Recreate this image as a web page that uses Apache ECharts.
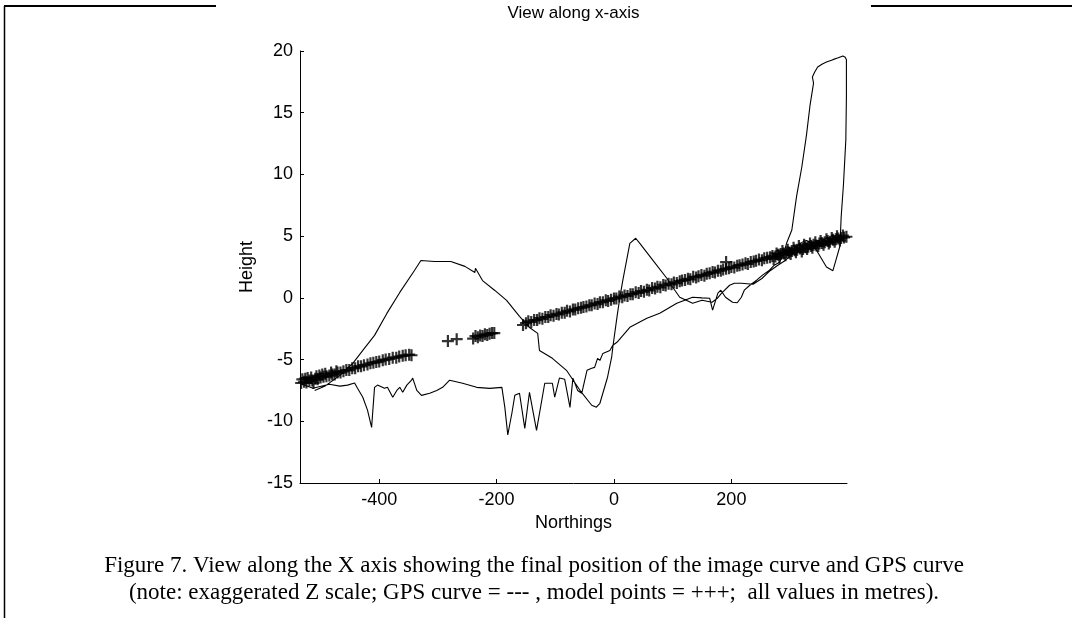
<!DOCTYPE html>
<html><head><meta charset="utf-8">
<script src="https://cdn.jsdelivr.net/npm/echarts@6/dist/echarts.min.js"></script>
<style>html,body{margin:0;padding:0;background:#fff}#c{width:1072px;height:618px}</style>
</head><body><div id="c"></div>
<script>
// ---- text ----
const titleText = 'View along x-axis';
const xAxisName = 'Northings';
const yAxisName = 'Height';
const captionLines = [
  'Figure 7. View along the X axis showing the final position of the image curve and GPS curve',
  '(note: exaggerated Z scale; GPS curve = --- , model points = +++;  all values in metres).'
];
// ---- axes ----
const xRange = [-535, 397];
const yRange = [-15, 20];
const yStep = 5;
const xTickValues = [-400, -200, 0, 200];

// ---- GPS curve (Northings, Height), in travel order ----
const gpsCurve = [
  [-535,-6.92],[-513,-7.33],[-485,-7.0],[-467,-7.15],[-454,-7.07],[-442,-6.9],[-437,-7.33],[-428,-8.05],
  [-420,-9.1],[-413,-10.5],[-408,-7.25],[-403,-7.07],[-391,-7.33],[-386,-7.25],[-377,-8.05],[-370,-7.5],
  [-365,-7.25],[-360,-7.65],[-353,-7.07],[-345,-6.67],[-343,-6.5],[-336,-7.5],[-328,-7.9],[-314,-7.73],
  [-302,-7.5],[-292,-7.25],[-280,-6.67],[-258,-6.92],[-234,-7.25],[-212,-7.33],[-191,-7.25],[-186,-8.87],
  [-181,-11.1],[-174,-9.35],[-169,-7.9],[-161,-7.73],[-152,-10.57],[-144,-7.65],[-132,-10.73],[-118,-6.92],
  [-105,-6.92],[-101,-8.05],[-93,-6.5],[-84,-6.6],[-75,-8.87],[-70,-6.5],[-67,-6.42],[-62,-7.5],[-55,-7.73],
  [-46,-5.87],[-38,-5.7],[-33,-5.63],[-28,-4.9],[-24,-5.07],[-19,-4.5],[-7,-4.26],[-2,-3.84],[5,-3.6],
  [27,-2.39],[56,-1.66],[78,-1.25],[107,-0.44],[134,0.05],[150,0.0],[163,-0.03],[168,-1.0],[177,0.38],
  [182,0.62],[190,0.05],[202,-0.36],[210,-0.4],[217,0.05],[222,0.62],[231,1.0],[243,1.43],[253,1.84],
  [265,2.24],[273,2.65],[282,2.89],[290,3.7],[294,4.42],
  [303,5.5],[311,8.2],[320,10.6],[328,13.2],[334,15.6],[340,17.4],[338,17.9],[342,18.3],[347,18.7],
  [355,18.95],[362,19.1],[373,19.3],[382,19.45],[390,19.6],[394,19.5],[396,19.3],[396,16.3],[395,12.8],
  [391,9.2],[387,6.5],[385,4.2],[379,3.2],[373,2.2],[362,2.5],[345,3.85],[334,4.5],[328,4.65],[323,4.58],
  [311,4.17],[305,3.6],[291,3.0],[278,2.6],[266,2.2],[252,1.57],[237,1.1],[217,1.18],[205,1.18],[197,1.02],
  [183,0.37],[176,-0.04],[167,-0.36],[150,-0.2],[134,-0.44],[112,0.05],[100,0.86],[90,1.59],[69,2.88],
  [44,4.42],[37,4.83],[27,4.42],[15,1.42],[10,0.04],[5,-1.58],[-2,-4.0],[-4,-4.81],[-11,-6.43],[-24,-8.54],
  [-30,-8.86],[-38,-8.7],[-58,-7.49],[-81,-5.87],[-105,-4.9],[-127,-4.26],[-130,-2.88],[-144,-2.4],
  [-161,-1.5],[-183,-0.21],[-203,0.6],[-224,1.4],[-236,2.4],[-237,2.06],[-254,2.55],[-278,2.95],
  [-306,2.95],[-329,3.03],[-340,2.22],[-365,0.44],[-387,-1.26],[-408,-3.04],[-428,-4.26],[-445,-5.31],
  [-467,-6.28],[-493,-7.17],[-510,-7.5]
];

// ---- model points (Northings, Height) ----
const modelPoints = [
  [-533,-6.9],[-531,-6.6],[-528,-6.8],[-526,-6.55],[-524,-6.85],[-522,-6.5],[-519,-6.7],[-516,-6.45],
  [-514,-6.7],[-512,-6.9],[-509,-6.55],[-507,-6.35],[-505,-6.6],[-502,-6.3],[-500,-6.45],[-497,-6.2],
  [-495,-6.4],[-492,-6.15],[-490,-6.35],[-485,-6.3],[-482,-6.05],[-480,-6.2],[-476,-6.2],[-473,-5.95],
  [-471,-6.05],[-466,-6.05],[-461,-5.95],[-456,-5.85],[-451,-5.85],[-446,-5.7],[-441,-5.7],[-436,-5.55],
  [-431,-5.55],[-426,-5.45],[-420,-5.4],[-415,-5.3],[-410,-5.25],[-405,-5.2],[-400,-5.15],[-394,-5.05],
  [-389,-5.0],[-383,-4.95],[-377,-4.85],[-371,-4.85],[-366,-4.75],[-360,-4.7],[-355,-4.65],[-349,-4.6],
  [-345,-4.65],
  [-283,-3.5],[-268,-3.35],
  [-240,-3.3],[-236,-3.1],[-232,-3.2],[-228,-3.05],[-224,-3.1],[-220,-2.95],[-216,-3.0],[-212,-2.9],
  [-208,-2.85],[-204,-2.85],
  [-155,-2.2],[-150,-2.05],[-146,-1.9],[-141,-1.95],[-136,-1.8],[-131,-1.8],[-127,-1.65],[-122,-1.7],
  [-117,-1.55],[-112,-1.55],[-108,-1.4],[-103,-1.45],[-98,-1.3],[-94,-1.35],[-89,-1.2],[-84,-1.2],
  [-80,-1.05],[-75,-1.1],[-70,-0.95],[-66,-0.95],[-61,-0.85],[-56,-0.8],[-52,-0.75],[-47,-0.7],
  [-42,-0.6],[-38,-0.6],[-33,-0.45],[-28,-0.5],[-24,-0.35],[-19,-0.35],[-14,-0.2],[-10,-0.25],
  [-5,-0.15],[0,-0.05],[4,-0.05],[9,0.1],[14,0.05],[18,0.2],[23,0.15],[28,0.3],[32,0.3],[37,0.45],
  [42,0.4],[46,0.55],[51,0.5],[56,0.65],[60,0.6],[65,0.8],[70,0.75],[74,0.9],[79,0.85],[84,1.05],
  [88,1.0],[93,1.15],[98,1.1],[102,1.25],[107,1.2],[112,1.35],[116,1.4],[121,1.45],[126,1.55],
  [130,1.5],[135,1.7],[140,1.65],[144,1.75],[149,1.85],[154,1.8],[158,1.95],[163,2.0],[168,2.1],
  [172,2.05],[177,2.2],[182,2.2],[186,2.3],[191,2.35],[191,2.9],[196,2.4],[200,2.5],[205,2.45],
  [210,2.6],[214,2.65],[219,2.7],[224,2.8],[228,2.75],[233,2.9],[238,2.95],[242,3.0],[247,3.1],
  [252,3.05],[256,3.2],[261,3.25],[266,3.3],[270,3.4],[275,3.35],[280,3.5],[284,3.55],[289,3.6],
  [294,3.7],[298,3.65],[303,3.8],[308,3.85],[312,3.9],[317,4.0],[322,3.95],[326,4.1],[331,4.15],
  [336,4.2],[340,4.3],[345,4.25],[350,4.4],[354,4.45],[359,4.5],[364,4.6],[368,4.55],[373,4.7],
  [378,4.75],[382,4.8],[387,4.85],[392,4.9],[396,4.95],
  [272,3.15],[277,3.6],[282,3.25],[287,3.8],[292,3.45],[296,3.9],[301,3.55],[306,4.05],[310,3.7],
  [315,4.2],[320,3.75],[324,4.3],[329,3.95],[334,4.4],[338,4.05],[343,4.5],[348,4.2],[352,4.6],
  [357,4.3],[362,4.75],[366,4.4],[371,4.85],[376,4.55],[380,5.0],[385,4.65],[390,5.05]
];

const sansFont = '"Liberation Sans", Arial, sans-serif';
const serifFont = '"Liberation Serif", "Times New Roman", serif';
const plusPath = 'path://M4.9,0H7.1V4.9H12V7.1H7.1V12H4.9V7.1H0V4.9H4.9Z';
const axisFontSize = 18;

const chart = echarts.init(document.getElementById('c'), null, {renderer: 'canvas'});
chart.setOption({
  backgroundColor: '#fff',
  animation: false,
  grid: {left: 300, top: 51, width: 547, height: 432, containLabel: false},
  xAxis: {
    type: 'value', min: xRange[0], max: xRange[1],
    name: xAxisName, nameLocation: 'middle', nameGap: 30,
    nameTextStyle: {fontFamily: sansFont, fontSize: axisFontSize, color: '#000'},
    axisLine: {show: true, onZero: false, lineStyle: {color: '#000', width: 1}},
    axisTick: {show: true, inside: true, length: 4, customValues: xTickValues, lineStyle: {color: '#000'}},
    axisLabel: {customValues: xTickValues, margin: 8, fontFamily: sansFont, fontSize: axisFontSize, color: '#000'},
    splitLine: {show: false}
  },
  yAxis: {
    type: 'value', min: yRange[0], max: yRange[1], interval: yStep,
    name: yAxisName, nameLocation: 'middle', nameGap: 38, nameRotate: 90,
    nameTextStyle: {fontFamily: sansFont, fontSize: axisFontSize, color: '#000'},
    axisLine: {show: true, onZero: false, lineStyle: {color: '#000', width: 1}},
    axisTick: {show: true, inside: true, length: 4, lineStyle: {color: '#000'}},
    axisLabel: {margin: 7, fontFamily: sansFont, fontSize: axisFontSize, color: '#000'},
    splitLine: {show: false}
  },
  series: [
    {
      name: 'GPS curve', type: 'line', data: gpsCurve, showSymbol: false, symbol: 'none',
      lineStyle: {color: '#000', width: 1.1}, silent: true, z: 3
    },
    {
      name: 'model points', type: 'scatter', data: modelPoints, symbol: plusPath,
      symbolSize: [12, 12], itemStyle: {color: '#000'}, silent: true, z: 4
    }
  ],
  graphic: [
    {type: 'line', shape: {x1: 4, y1: 6, x2: 216, y2: 6}, style: {stroke: '#000', lineWidth: 2}},
    {type: 'line', shape: {x1: 871, y1: 6, x2: 1072, y2: 6}, style: {stroke: '#000', lineWidth: 2}},
    {type: 'line', shape: {x1: 4.5, y1: 6, x2: 4.5, y2: 618}, style: {stroke: '#000', lineWidth: 1.5}},
    {type: 'text', x: 573.5, y: 13, style: {text: titleText, font: axisFontSize - 1 + 'px ' + sansFont, fill: '#000', textAlign: 'center', textVerticalAlign: 'middle'}},
    {type: 'text', x: 534, y: 566, style: {text: captionLines[0], font: '23px ' + serifFont, fill: '#000', textAlign: 'center', textVerticalAlign: 'middle'}},
    {type: 'text', x: 534, y: 593, style: {text: captionLines[1], font: '23px ' + serifFont, fill: '#000', textAlign: 'center', textVerticalAlign: 'middle'}}
  ]
});
</script>
</body></html>
